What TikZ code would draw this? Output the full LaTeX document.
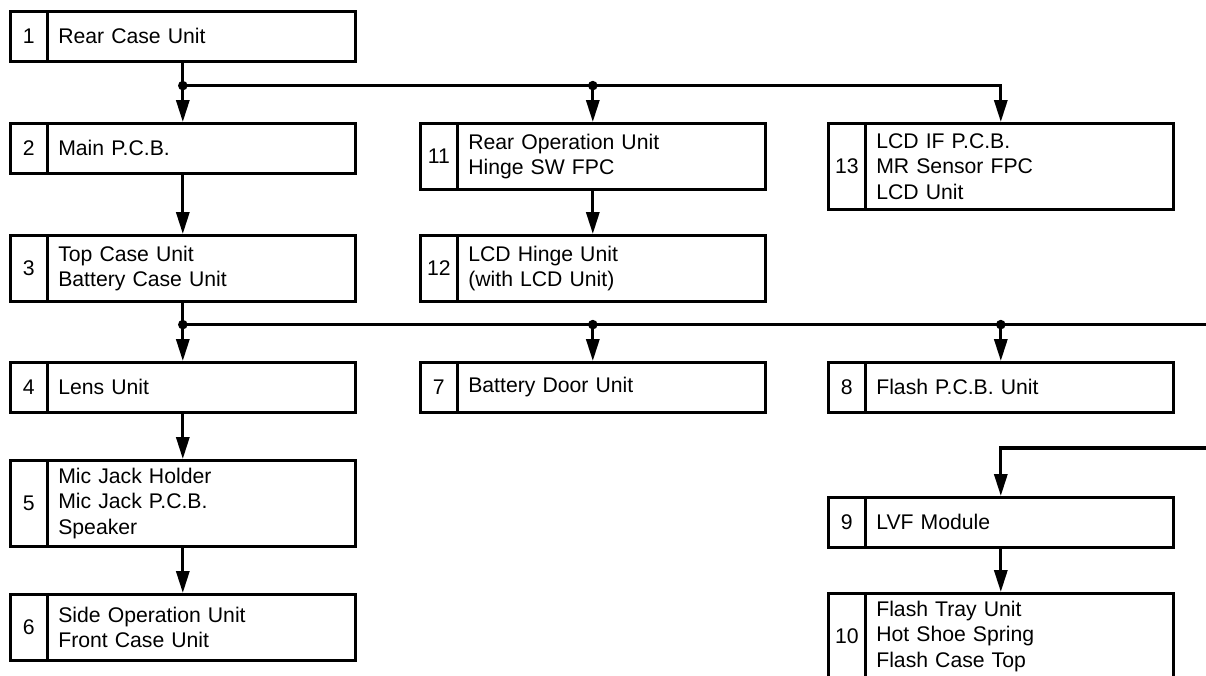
\documentclass[tikz,border=0pt]{standalone}
\usepackage{fontspec}
\setmainfont{Liberation Sans}
\usepackage{tikz}
\usetikzlibrary{arrows.meta,positioning,calc}

\begin{document}
\begin{tikzpicture}[
    x=1pt, y=-1pt,
    font=\fontsize{21.2}{25.5}\selectfont,
    unit/.style={rectangle, draw, line width=2.6pt, anchor=north west, minimum width=345pt, minimum height=#1, text width=249pt, align=left, inner sep=0pt},
    unit/.default=50pt,
    num/.style={rectangle, draw, line width=2.6pt, anchor=west, minimum width=37pt, minimum height=#1, inner sep=0pt},
    num/.default=50pt,
    arrow/.style={-{Triangle[length=22pt, width=13pt]}, line width=3.2pt},
    bus/.style={line width=3.2pt}
]
    \useasboundingbox (0,0) rectangle (1206,675);

    % Left column
    \node[unit] (rear) at (9,10) {Rear Case Unit};
    \node[num] (n1) at (rear.west) {1};

    \node[unit] (mainpcb) at (9,122) {Main P.C.B.};
    \node[num] (n2) at (mainpcb.west) {2};

    \node[unit=66pt] (topcase) at (9,234) {Top Case Unit\\Battery Case Unit};
    \node[num=66pt] (n3) at (topcase.west) {3};

    \node[unit] (lens) at (9,361) {Lens Unit};
    \node[num] (n4) at (lens.west) {4};

    \node[unit=86pt] (mic) at (9,459) {Mic Jack Holder\\Mic Jack P.C.B.\\Speaker};
    \node[num=86pt] (n5) at (mic.west) {5};

    \node[unit=66pt] (side) at (9,593) {Side Operation Unit\\Front Case Unit};
    \node[num=66pt] (n6) at (side.west) {6};

    % Middle column
    \node[unit=66pt] (rearop) at (419,122) {Rear Operation Unit\\Hinge SW FPC};
    \node[num=66pt] (n11) at (rearop.west) {11};

    \node[unit=66pt] (hinge) at (419,234) {LCD Hinge Unit\\(with LCD Unit)};
    \node[num=66pt] (n12) at (hinge.west) {12};

    \node[unit] (door) at (419,361) {Battery Door Unit};
    \node[num] (n7) at (door.west) {7};

    % Right column
    \node[unit=86pt] (lcdif) at (827,122) {LCD IF P.C.B.\\MR Sensor FPC\\LCD Unit};
    \node[num=86pt] (n13) at (lcdif.west) {13};

    \node[unit] (flash) at (827,361) {Flash P.C.B. Unit};
    \node[num] (n8) at (flash.west) {8};

    \node[unit] (lvf) at (827,496) {LVF Module};
    \node[num] (n9) at (lvf.west) {9};

    \node[unit=86pt] (tray) at (827,592) {Flash Tray Unit\\Hot Shoe Spring\\Flash Case Top};
    \node[num=86pt] (n10) at (tray.west) {10};

    % Junctions
    \coordinate (j1) at ($(rear.south)+(0,23)$);
    \coordinate (j2) at ($(topcase.south)+(0,22)$);
    \coordinate (edge1) at ($(j2)+(1040,0)$);
    \coordinate (edge2) at ($(lvf.north)+(220,-48)$);

    % From rear case
    \draw[arrow] (rear.south) -- (mainpcb.north);
    \draw[arrow] (j1) -| (lcdif.north);
    \draw[arrow] (j1 -| rearop.north) -- (rearop.north);
    \draw[arrow] (mainpcb.south) -- (topcase.north);
    \draw[arrow] (rearop.south) -- (hinge.north);

    % From top case
    \draw[arrow] (topcase.south) -- (lens.north);
    \draw[bus] (j2) -- (edge1);
    \draw[arrow] (j2 -| door.north) -- (door.north);
    \draw[arrow] (j2 -| flash.north) -- (flash.north);
    \draw[arrow] (lens.south) -- (mic.north);
    \draw[arrow] (mic.south) -- (side.north);
    \draw[arrow] (edge2) -| (lvf.north);
    \draw[arrow] (lvf.south) -- (tray.north);

    % Dots
    \fill (j1) circle[radius=4.8pt];
    \fill (j1 -| rearop.north) circle[radius=4.8pt];
    \fill (j2) circle[radius=4.8pt];
    \fill (j2 -| door.north) circle[radius=4.8pt];
    \fill (j2 -| flash.north) circle[radius=4.8pt];
\end{tikzpicture}
\end{document}
